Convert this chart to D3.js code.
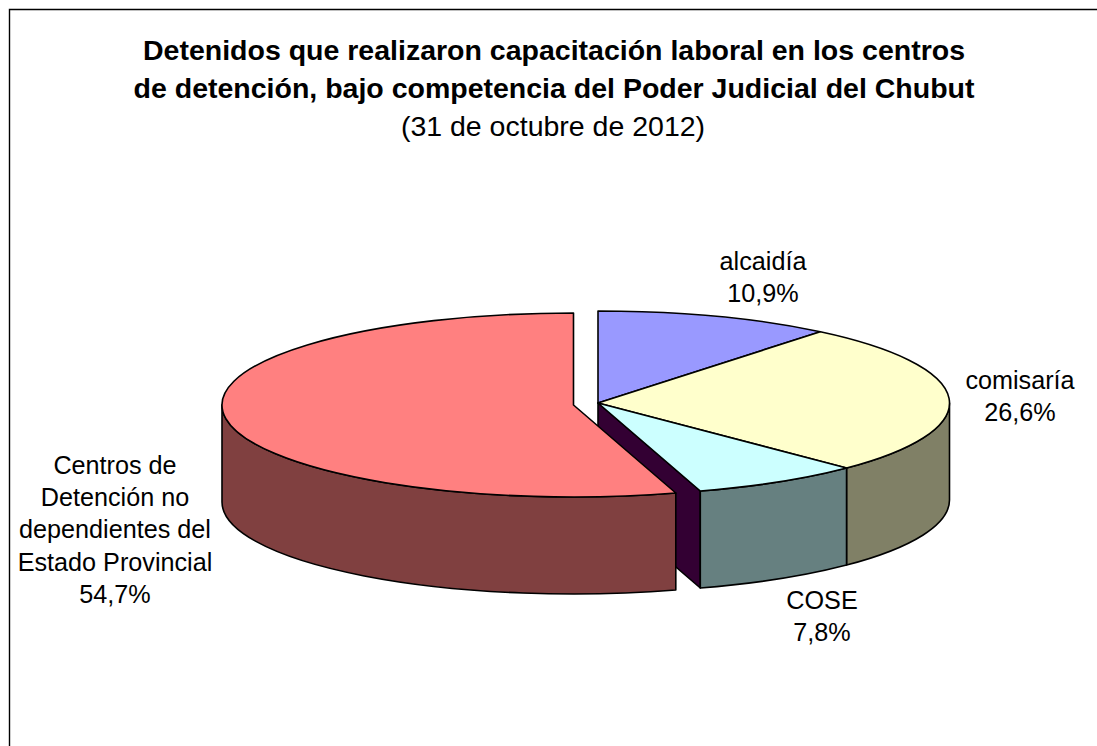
<!DOCTYPE html>
<html><head><meta charset="utf-8">
<script src="https://d3js.org/d3.v7.min.js"></script>
<style>html,body{margin:0;padding:0;background:#fff}svg{display:block}text{font-family:"Liberation Sans",Arial,sans-serif;fill:#000}</style>
</head><body><div id="c"></div>
<script>
const categories = ["alcaidía","comisaría","COSE","Centros de Detención no dependientes del Estado Provincial"];
const values = [10.9,26.6,7.8,54.7];
const valueLabels = ["10,9%","26,6%","7,8%","54,7%"];
const topColors = ["#9999FF","#FFFFCC","#CCFFFF","#FF8080"];
const sideColors = ["#4D4D80","#808066","#668080","#804040"];
const cutColor = "#330033";
const titleBold = ["Detenidos que realizaron capacitación laboral en los centros","de detención, bajo competencia del Poder Judicial del Chubut"];
const subtitle = "(31 de octubre de 2012)";
const labelLines = [["alcaidía","10,9%"],["comisaría","26,6%"],["COSE","7,8%"],["Centros de","Detención no","dependientes del","Estado Provincial","54,7%"]];
const labelAnchor = [[763,270],[1020,389],[822,609],[115,474]];

const W=1097,H=746, rx=351.5, ry=92, depth=97;
const centers=[[598,403],[598,403],[598,403],[573.5,405]];
const svg=d3.select("#c").append("svg").attr("width",W).attr("height",H);
svg.append("rect").attr("width",W).attr("height",H).attr("fill","#fff");
svg.append("path").attr("d","M9.5,746V9.5H1097").attr("fill","none").attr("stroke","#000").attr("stroke-width",1.4);

const arcs=d3.pie().sort(null).value(d=>d).startAngle(0).endAngle(2*Math.PI)(values);
const pt=(c,a,dz=0)=>[c[0]+rx*Math.sin(a),c[1]-ry*Math.cos(a)+dz];
const pathOf=(c,a0,a1)=>{
  const [x0,y0]=pt(c,a0),[x1,y1]=pt(c,a1);
  return `M${c[0]},${c[1]}L${x0},${y0}A${rx},${ry} 0 ${a1-a0>Math.PI?1:0} 1 ${x1},${y1}Z`;
};
const wallOf=(c,a0,a1)=>{
  const s=Math.max(a0,Math.PI/2),e=Math.min(a1,3*Math.PI/2);
  if(e<=s) return null;
  const [x0,y0]=pt(c,s),[x1,y1]=pt(c,e);
  return `M${x0},${y0}A${rx},${ry} 0 0 1 ${x1},${y1}L${x1},${y1+depth}A${rx},${ry} 0 0 0 ${x0},${y0+depth}Z`;
};
const g=svg.append("g").attr("stroke","#000").attr("stroke-width",1.6).attr("stroke-linejoin","round");
const cose=arcs[2], cc=centers[2], [ex,ey]=pt(cc,cose.endAngle);
g.append("path").attr("d",`M${cc[0]},${cc[1]}L${ex},${ey}V${ey+depth}L${cc[0]},${cc[1]+depth}Z`).attr("fill",cutColor);
[0,1,2,3].forEach(i=>{
  const w=wallOf(centers[i],arcs[i].startAngle,arcs[i].endAngle);
  if(w) g.append("path").attr("d",w).attr("fill",sideColors[i]);
});
[0,1,2,3].forEach(i=>{
  g.append("path").attr("d",pathOf(centers[i],arcs[i].startAngle,arcs[i].endAngle)).attr("fill",topColors[i]);
});

const title=svg.append("g").attr("text-anchor","middle");
title.append("text").attr("x",554).attr("y",60).attr("font-size",28.5).attr("font-weight","bold").text(titleBold[0]);
title.append("text").attr("x",554).attr("y",98).attr("font-size",28.5).attr("font-weight","bold").text(titleBold[1]);
title.append("text").attr("x",553).attr("y",136).attr("font-size",28.5).text(subtitle);

labelLines.forEach((ls,i)=>{
  const t=svg.append("text").attr("text-anchor","middle").attr("font-size",25.2);
  ls.forEach((s,j)=>t.append("tspan").attr("x",labelAnchor[i][0]).attr("y",labelAnchor[i][1]+j*32.2).text(s));
});
</script></body></html>
